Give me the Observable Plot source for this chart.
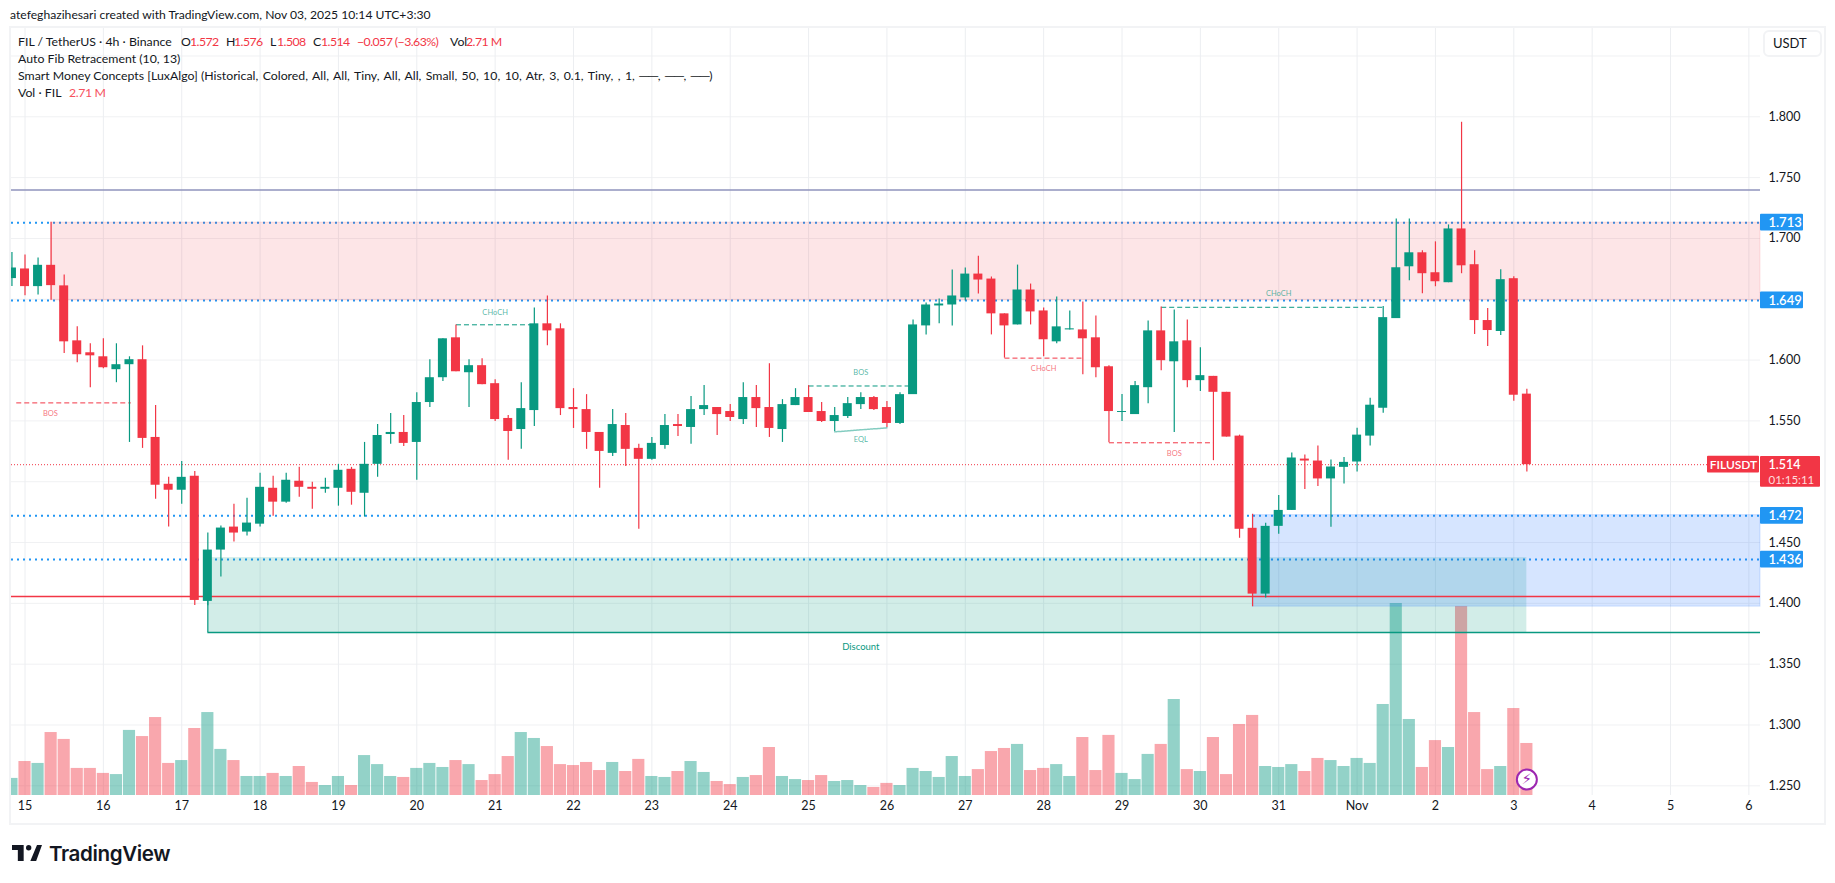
<!DOCTYPE html>
<html>
<head>
<meta charset="utf-8">
<script src="https://cdn.jsdelivr.net/npm/d3@7"></script>
<script src="https://cdn.jsdelivr.net/npm/@observablehq/plot@0.6"></script>
<style>
  html,body{margin:0;padding:0;background:#fff;width:1835px;height:883px;overflow:hidden}
  #page{position:relative;width:1835px;height:883px;font-family:"Lato","Noto Sans",sans-serif;color:#131722}
  #page svg{position:absolute;left:0;top:0}
  .t{position:absolute;white-space:pre;font-size:12.3px;line-height:16px}
  .r{color:#f23645;letter-spacing:-.55px}
  .s{color:#f7525f;letter-spacing:-.4px}
  #frame{position:absolute;left:10px;top:27px;width:1813px;height:795px;border:2px solid #f2f3f5;box-sizing:content-box;margin:-1px 0 0 -1px}
  #usdt{position:absolute;left:1763px;top:30px;width:59px;height:27px;border:2px solid #f2f3f5;border-radius:6px;box-sizing:border-box;background:#fff;font-size:13px;line-height:23px;padding-left:8px}
  #brand{position:absolute;left:49px;top:841px;font-family:"Inter","Roboto",sans-serif;font-weight:600;font-size:20.6px;line-height:26px;color:#131722;letter-spacing:-.4px}
</style>
</head>
<body>
<div id="page">
  <div id="frame"></div>
  <div id="chart"></div>
  <div class="t" style="left:10px;top:7px;font-size:12.15px">atefeghazihesari created with TradingView.com, Nov 03, 2025 10:14 UTC+3:30</div>
  <div class="t" style="left:18px;top:34px">FIL / TetherUS · 4h · Binance</div>
  <div class="t" style="left:181px;top:34px">O</div><div class="t r" style="left:190px;top:34px">1.572</div>
  <div class="t" style="left:226px;top:34px">H</div><div class="t r" style="left:234px;top:34px">1.576</div>
  <div class="t" style="left:270px;top:34px">L</div><div class="t r" style="left:277px;top:34px">1.508</div>
  <div class="t" style="left:313px;top:34px">C</div><div class="t r" style="left:321px;top:34px">1.514</div>
  <div class="t r" style="left:357px;top:34px">−0.057 (−3.63%)</div>
  <div class="t" style="left:450px;top:34px">Vol</div><div class="t r" style="left:466px;top:34px">2.71 M</div>
  <div class="t" style="left:18px;top:51px">Auto Fib Retracement (10, 13)</div>
  <div class="t" style="left:18px;top:68px">Smart Money Concepts [LuxAlgo] <span style="word-spacing:1.3px">(Historical, Colored, All, All, Tiny, All, All, Small, 50, 10, 10, Atr, 3, 0.1, Tiny, , 1, ──, ──, ──)</span></div>
  <div class="t" style="left:18px;top:85px">Vol · FIL</div><div class="t s" style="left:69px;top:85px">2.71 M</div>
  <div id="usdt">USDT</div>
  <svg width="30" height="16" viewBox="0 0 36 19" style="left:12px;top:845px"><path fill="#131722" d="M14 0H0v6h7v13h7V0Zm15 19h-7L30 0h6l-7 19Z"/><circle cx="20" cy="3.2" r="3.2" fill="#131722"/></svg>
  <div id="brand">TradingView</div>
</div>
<script>
// Candles: 4h bars, index -1 is the first (partly hidden) bar, index 0 is Oct 15 00:00 tick.
const firstBar = -1;
const opens = [
 1.667,1.6749,1.6604,1.6779,1.661,1.6158,1.606,1.6027,1.5921,1.5962,
 1.6003,1.5364,1.4979,1.493,1.5045,1.4016,1.4438,1.4627,1.4586,1.4651,
 1.4946,1.4832,1.5004,1.4954,1.4938,1.4946,1.5102,1.4905,1.5143,1.5388,
 1.5405,1.5323,1.5651,1.5855,1.6183,1.5896,1.5954,1.5806,1.552,1.5429,
 1.5585,1.6298,1.6257,1.561,1.5593,1.5405,1.5233,1.5462,1.5274,1.5184,
 1.5298,1.547,1.5446,1.5593,1.561,1.5577,1.5511,1.5692,1.561,1.5429,
 1.5626,1.5692,1.5577,1.5495,1.5536,1.5634,1.5692,1.561,1.5479,1.5716,
 1.6281,1.6445,1.6453,1.6511,1.6707,1.6666,1.638,1.6289,1.6576,1.6404,
 1.615,1.6248,1.6248,1.6183,1.5945,1.5569,1.5552,1.5773,1.624,1.5986,
 1.6158,1.5831,1.5866,1.5735,1.5375,1.4617,1.4076,1.4633,1.4764,1.5186,
 1.517,1.5023,1.5118,1.5162,1.5375,1.5604,1.6341,1.6767,1.6882,1.6718,
 1.6636,1.7078,1.6784,1.6325,1.6235,1.6669,1.572];
const closes = [
 1.6757,1.6604,1.6779,1.6612,1.615,1.6044,1.6035,1.5937,1.5962,1.6003,
 1.5356,1.4971,1.493,1.5036,1.4024,1.4438,1.4619,1.4578,1.466,1.4954,
 1.4832,1.5012,1.4954,1.4938,1.4954,1.5094,1.4913,1.5143,1.538,1.5405,
 1.5315,1.5651,1.5855,1.6175,1.5904,1.5954,1.5798,1.5511,1.5413,1.5601,
 1.6298,1.624,1.5601,1.5593,1.5405,1.5249,1.547,1.5266,1.5184,1.5315,
 1.5462,1.5454,1.5593,1.5626,1.5552,1.5528,1.5692,1.5601,1.5438,1.5634,
 1.5692,1.5569,1.5495,1.5544,1.5642,1.5692,1.5593,1.5479,1.5716,1.6289,
 1.6453,1.6461,1.6527,1.6707,1.6658,1.638,1.6281,1.6576,1.6396,1.6167,
 1.6273,1.6257,1.6175,1.5937,1.5577,1.5577,1.579,1.624,1.5995,1.615,
 1.5831,1.5872,1.5735,1.5367,1.4609,1.4076,1.4633,1.4764,1.5195,1.517,
 1.5023,1.5121,1.5159,1.5383,1.5629,1.6349,1.6759,1.6882,1.671,1.6644,
 1.7078,1.6775,1.6325,1.6243,1.6661,1.5711,1.514];
const highs = [
 1.6885,1.6864,1.6839,1.7134,1.67,1.6273,1.6134,1.6175,1.6134,1.6027,
 1.6117,1.5626,1.5036,1.5167,1.5085,1.4578,1.4635,1.4815,1.4864,1.5069,
 1.5045,1.5069,1.5118,1.4995,1.5028,1.5143,1.5118,1.5323,1.547,1.556,
 1.5544,1.5732,1.6003,1.6175,1.6289,1.6003,1.6011,1.5839,1.5544,1.5814,
 1.6429,1.6527,1.6298,1.5765,1.5716,1.5405,1.5593,1.556,1.5307,1.5364,
 1.5552,1.5552,1.57,1.579,1.561,1.5634,1.5814,1.579,1.597,1.5675,
 1.5765,1.579,1.5651,1.561,1.5692,1.5732,1.57,1.5659,1.5732,1.633,
 1.647,1.6502,1.674,1.6756,1.6854,1.6683,1.638,1.6781,1.6625,1.6429,
 1.6519,1.6404,1.6478,1.6363,1.5954,1.5716,1.5823,1.6322,1.6437,1.6412,
 1.633,1.6101,1.5866,1.5735,1.5383,1.4732,1.4658,1.4887,1.5236,1.5219,
 1.5293,1.5178,1.52,1.544,1.5686,1.644,1.716,1.716,1.6898,1.6972,
 1.7111,1.7955,1.6898,1.6423,1.6743,1.6685,1.576];
const lows = [
 1.6604,1.6528,1.6536,1.6491,1.6055,1.5978,1.5773,1.5929,1.5814,1.5323,
 1.5274,1.4856,1.4627,1.4815,1.3982,1.398,1.4217,1.4504,1.4553,1.4627,
 1.4717,1.4823,1.4873,1.4774,1.4905,1.4799,1.4807,1.4709,1.5036,1.5307,
 1.529,1.5012,1.561,1.5823,1.5904,1.561,1.5798,1.5495,1.5176,1.5266,
 1.5454,1.6117,1.5544,1.5438,1.5266,1.4946,1.5208,1.5126,1.461,1.5176,
 1.5266,1.5372,1.5307,1.5544,1.538,1.5495,1.547,1.5446,1.5364,1.5323,
 1.5626,1.5569,1.5487,1.5413,1.552,1.5593,1.5585,1.5446,1.547,1.5716,
 1.6207,1.6298,1.6281,1.6486,1.6543,1.6207,1.6016,1.6289,1.6289,1.6027,
 1.6134,1.6248,1.588,1.5855,1.532,1.5495,1.5552,1.5642,1.5913,1.5405,
 1.5773,1.5741,1.5173,1.5367,1.4535,1.3973,1.4044,1.4568,1.4764,1.4936,
 1.4961,1.4625,1.4982,1.508,1.5293,1.5563,1.6341,1.6652,1.6546,1.6603,
 1.6636,1.671,1.621,1.6112,1.6202,1.5661,1.508];
// Volume, millions
const volumes = [
 .89,1.77,1.67,3.28,2.92,1.41,1.41,1.15,1.09,3.39,
 3.07,4.06,1.67,1.82,3.49,4.32,2.40,1.82,.99,.99,
 1.15,.99,1.51,.68,.52,.99,.52,2.08,1.61,.99,
 .94,1.41,1.67,1.46,1.82,1.61,.78,1.09,2.03,3.28,
 2.97,2.55,1.61,1.56,1.72,1.30,1.72,1.25,1.88,.99,
 .94,1.25,1.77,1.20,.73,.57,.94,1.04,2.50,.99,
 .83,.78,1.04,.73,.78,.52,.42,.63,.52,1.41,
 1.25,.94,2.03,.99,1.35,2.29,2.45,2.66,1.30,1.41,
 1.61,.99,3.02,1.30,3.13,1.15,.83,2.14,2.66,5.00,
 1.35,1.25,3.02,1.09,3.70,4.17,1.51,1.46,1.61,1.25,
 1.93,1.82,1.51,1.93,1.67,4.74,10.0,3.96,1.46,2.86,
 2.50,9.84,4.32,1.35,1.51,4.53,2.71];

// Axes
const dayLabels = ["15","16","17","18","19","20","21","22","23","24","25","26","27","28","29","30","31","Nov","2","3","4","5","6"];
const barsPerDay = 6;
const priceTicks = [1.25,1.30,1.35,1.40,1.45,1.50,1.55,1.60,1.65,1.70,1.75,1.80];
const priceGrid = [...priceTicks, 1.85];

// Levels and zones
const fibLevels = [1.713,1.649,1.472,1.436];
const premiumZone = [{from:2, y1:1.649, y2:1.713}];
const blueZone = [{from:94, y1:1.3973, y2:1.4725}];
const discountZone = [{from:14, to:115, y1:1.376, y2:1.4376}];
const lastPrice = 1.514, redLevel = 1.4057, violetLevel = 1.7398, discountLevel = 1.376;

// Smart-money structure
const breakLines = [
 {x1:-.67,x2:8.1,y:1.5648,c:"#f23645"},
 {x1:33,x2:39,y:1.629,c:"#089981"},
 {x1:60,x2:67.7,y:1.5787,c:"#089981"},
 {x1:75,x2:81,y:1.6016,c:"#f23645"},
 {x1:83,x2:91,y:1.532,c:"#f23645"},
 {x1:87,x2:104,y:1.6434,c:"#089981"}];
const breakLabels = [
 {x:1.94,y:1.556,t:"BOS",c:"#f23645"},
 {x:36,y:1.639,t:"CHoCH",c:"#089981"},
 {x:64,y:1.5894,t:"BOS",c:"#089981"},
 {x:64,y:1.5345,t:"EQL",c:"#089981"},
 {x:78,y:1.5926,t:"CHoCH",c:"#f23645"},
 {x:88,y:1.523,t:"BOS",c:"#f23645"},
 {x:96,y:1.6543,t:"CHoCH",c:"#089981"}];
const eqlLine = [{x:62,y:1.541},{x:66,y:1.5443}];

const up = "#089981", down = "#f23645";
const bars = opens.map((o,k)=>({i:k+firstBar,o,c:closes[k],h:highs[k],l:lows[k],v:volumes[k],col:closes[k]>=o?up:down}));

// Scale geometry
const pxPerBar = 13.06, pxPerPrice = 1216.4;
const xMin = -1.034, xMax = 132.89;
const yMin = 1.24204, yMax = 1.87259;
const volK = 19.2/pxPerPrice;          // price units per million of volume
const px = n => n/pxPerBar, py = n => n/pxPerPrice;

const font = '"Lato","Noto Sans",sans-serif';

const plot = Plot.plot({
  width:1835, height:883,
  marginLeft:11, marginRight:75, marginTop:28, marginBottom:88,
  style:{background:"transparent", fontFamily:font},
  x:{type:"linear", domain:[xMin,xMax]},
  y:{type:"linear", domain:[yMin,yMax]},
  marks:[
    // grid
    Plot.ruleY(priceGrid,{stroke:"#f0f1f3",strokeWidth:1}),
    Plot.ruleX(dayLabels.map((d,k)=>k*barsPerDay),{stroke:"#eceef1",strokeWidth:1}),
    // volume
    Plot.rectY(bars,{x1:d=>d.i-.465,x2:d=>d.i+.465,y1:yMin,y2:d=>yMin+d.v*volK,fill:"col",fillOpacity:.44,clip:true}),
    // levels
    Plot.ruleY(fibLevels,{stroke:"#2196f3",strokeWidth:2,strokeDasharray:"2,4"}),
    Plot.ruleY([violetLevel],{stroke:"#8f93bd",strokeWidth:1.5}),
    Plot.ruleY([lastPrice],{stroke:down,strokeWidth:1,strokeDasharray:"1,2",x1:xMin,x2:xMax-px(53)}),
    // zones
    Plot.rect(premiumZone,{x1:"from",x2:()=>xMax,y1:"y1",y2:"y2",fill:"#f23645",fillOpacity:.13,stroke:"#f23645",strokeOpacity:.13,strokeWidth:1}),
    Plot.rect(discountZone,{x1:"from",x2:"to",y1:"y1",y2:"y2",fill:"#089981",fillOpacity:.18}),
    Plot.rect(blueZone,{x1:"from",x2:()=>xMax,y1:"y1",y2:"y2",fill:"#2473ff",fillOpacity:.19,stroke:"#2473ff",strokeOpacity:.18,strokeWidth:1}),
    Plot.ruleY([discountLevel],{x1:14,x2:xMax,stroke:up,strokeWidth:1.5}),
    Plot.ruleX([14],{y1:discountLevel,y2:1.4376,stroke:up,strokeWidth:1.2}),
    Plot.ruleY([redLevel],{stroke:"#f23645",strokeWidth:1.5}),
    // structure
    Plot.link(breakLines,{x1:"x1",x2:"x2",y1:"y",y2:"y",stroke:"c",strokeWidth:1,strokeDasharray:"5,3"}),
    Plot.line(eqlLine,{x:"x",y:"y",stroke:"#089981",strokeOpacity:.5,strokeWidth:1.5,strokeDasharray:"2,1"}),
    Plot.text(breakLabels,{x:"x",y:"y",text:"t",fill:"c",fillOpacity:.7,fontSize:7.5}),
    Plot.text(["Discount"],{x:()=>64,y:()=>1.364,text:d=>d,fill:up,fontSize:9.5}),
    // candles
    Plot.ruleX(bars,{x:"i",y1:"l",y2:"h",stroke:"col",strokeWidth:1.2,clip:true}),
    Plot.rect(bars,{x1:d=>d.i-.345,x2:d=>d.i+.345,y1:"o",y2:"c",fill:"col",clip:true}),
    // bolt marker
    Plot.dot([{x:115,y:1.2552}],{x:"x",y:"y",r:10,fill:"#fff",stroke:"#9c27b0",strokeWidth:2}),
    Plot.text(["⚡"],{x:()=>115,y:()=>1.2552,text:d=>d,fill:"#9c27b0",fontSize:15,fontFamily:"DejaVu Sans"}),
    // axes
    Plot.axisX(dayLabels.map((d,k)=>k*barsPerDay),{anchor:"bottom",tickSize:0,tickPadding:6,label:null,fontSize:12.5,fill:"#131722",tickFormat:v=>dayLabels[v/barsPerDay]}),
    Plot.axisY(priceTicks,{anchor:"right",tickSize:0,tickPadding:8,label:null,fontSize:12.5,fill:"#131722",tickFormat:d3.format(".3f")}),
    // price labels
    Plot.rect(fibLevels,{x1:()=>xMax,x2:()=>xMax+px(43),y1:d=>d-py(8.4),y2:d=>d+py(8.4),fill:"#2196f3",rx:1}),
    Plot.text(fibLevels,{x:()=>xMax,y:d=>d,dx:8,text:d3.format(".3f"),textAnchor:"start",fill:"#fff",fontSize:13,fontWeight:600}),
    Plot.rect([lastPrice],{x1:()=>xMax-px(53),x2:()=>xMax-px(1),y1:d=>d-py(8.4),y2:d=>d+py(8.4),fill:down,rx:1}),
    Plot.text(["FILUSDT"],{x:()=>xMax-px(27),y:()=>lastPrice,text:d=>d,fill:"#fff",fontSize:12,fontWeight:600}),
    Plot.rect([lastPrice],{x1:()=>xMax,x2:()=>xMax+px(60),y1:d=>d-py(22.5),y2:d=>d+py(8.2),fill:down,rx:1}),
    Plot.text([lastPrice],{x:()=>xMax,y:d=>d,dx:8,text:d3.format(".3f"),textAnchor:"start",fill:"#fff",fontSize:12.5,fontWeight:600}),
    Plot.text(["01:15:11"],{x:()=>xMax,y:()=>lastPrice-py(15.5),dx:8,text:d=>d,textAnchor:"start",fill:"#ffdcdc",fontSize:11.5})
  ]
});
document.getElementById("chart").appendChild(plot);
</script>
</body>
</html>
